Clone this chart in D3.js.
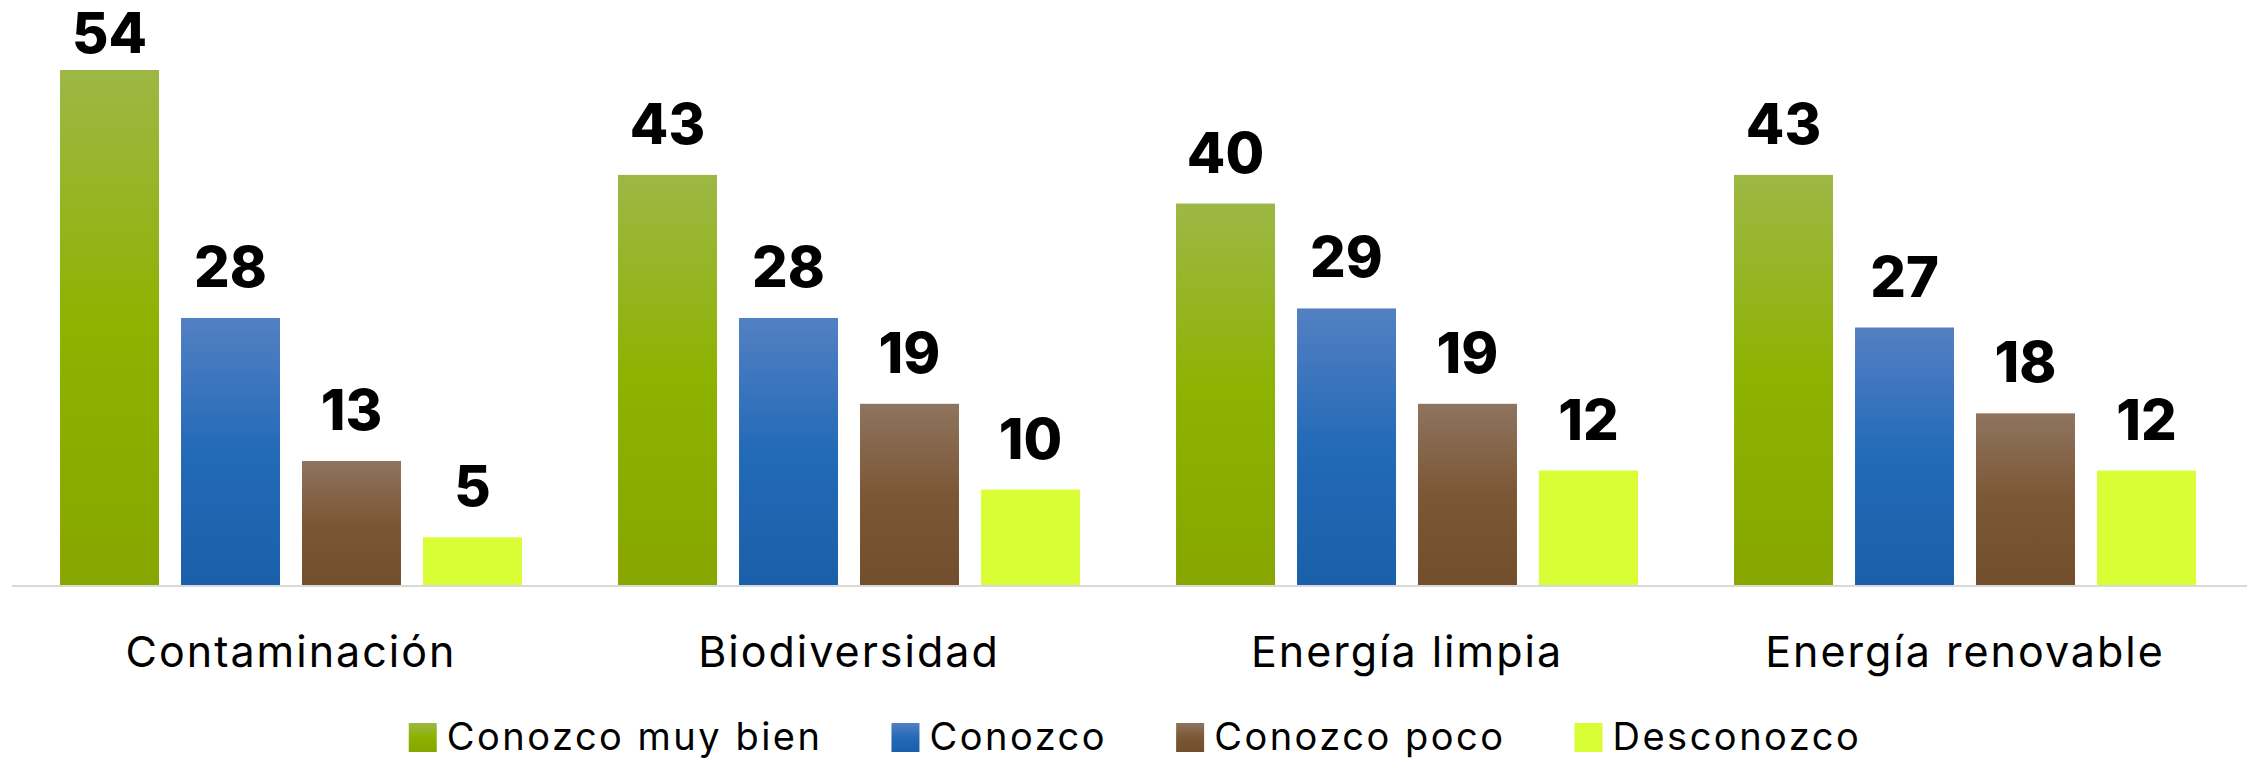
<!DOCTYPE html>
<html>
<head>
<meta charset="utf-8">
<script src="https://cdn.jsdelivr.net/npm/d3@7"></script>
<style>
  html, body { margin: 0; padding: 0; background: #fff; }
  svg { display: block; }
</style>
</head>
<body>
<div id="chart"></div>
<script>
// data
const categories = ["Contaminación", "Biodiversidad", "Energía limpia", "Energía renovable"];
const seriesNames = ["Conozco muy bien", "Conozco", "Conozco poco", "Desconozco"];
const muyBien = [54, 43, 40, 43];
const conozco = [28, 28, 29, 27];
const poco = [13, 19, 19, 18];
const desconozco = [5, 10, 12, 12];
const seriesValues = [muyBien, conozco, poco, desconozco];

// gradient stops per series (top, middle, bottom)
const palette = [
  ["#9db745", "#8db200", "#87a600"],
  ["#5380c3", "#236ab7", "#1a5fa9"],
  ["#8e745f", "#7c5735", "#734e2c"],
  ["#dafe35", "#dafe35", "#dafe35"]
];

const W = 2247, H = 759;
const baseY = 585;

const svg = d3.select("#chart").append("svg")
  .attr("width", W)
  .attr("height", H);

const defs = svg.append("defs");
palette.forEach((c, i) => {
  const lg = defs.append("linearGradient")
    .attr("id", `grad-${i}`)
    .attr("x1", 0).attr("y1", 0).attr("x2", 0).attr("y2", 1);
  lg.append("stop").attr("offset", "0%").attr("stop-color", c[0]);
  lg.append("stop").attr("offset", "50%").attr("stop-color", c[1]);
  lg.append("stop").attr("offset", "100%").attr("stop-color", c[2]);
});

const x0 = d3.scaleBand()
  .domain(categories)
  .range([12, 2244]);

const x1 = d3.scaleBand()
  .domain(seriesNames)
  .range([0, x0.bandwidth()])
  .paddingInner(0.182)
  .paddingOuter(0.397);

const y = d3.scaleLinear()
  .domain([0, 60])
  .range([baseY, baseY - 60 * 9.537]);

// table for the bars
const rows = [];
categories.forEach((cat, ci) => {
  seriesNames.forEach((s, si) => {
    rows.push({ cat, s, si, v: seriesValues[si][ci] });
  });
});

const g = svg.append("g");

g.selectAll("rect.bar")
  .data(rows)
  .join("rect")
  .attr("class", "bar")
  .attr("x", d => x0(d.cat) + x1(d.s))
  .attr("y", d => y(d.v))
  .attr("width", x1.bandwidth())
  .attr("height", d => baseY - y(d.v))
  .attr("fill", d => `url(#grad-${d.si})`);

// baseline
svg.append("line")
  .attr("x1", 12).attr("x2", W)
  .attr("y1", baseY + 1).attr("y2", baseY + 1)
  .attr("stroke", "#d9d9d9")
  .attr("stroke-width", 2);

// value labels (the tallest one is pushed down to fit)
g.selectAll("text.val")
  .data(rows)
  .join("text")
  .attr("class", "val")
  .attr("x", d => x0(d.cat) + x1(d.s) + x1.bandwidth() / 2)
  .attr("y", d => Math.max(y(d.v) - 31, 53))
  .attr("text-anchor", "middle")
  .style("font-family", "Inter, 'DejaVu Sans', sans-serif")
  .style("font-weight", 800)
  .style("font-size", "56px")
  .style("fill", "#000")
  .text(d => d.v);

// category labels
svg.selectAll("text.cat")
  .data(categories)
  .join("text")
  .attr("class", "cat")
  .attr("x", d => x0(d) + x0.bandwidth() / 2)
  .attr("y", 667)
  .attr("text-anchor", "middle")
  .style("font-family", "Inter, 'Noto Sans', sans-serif")
  .style("font-size", "43px")
  .style("letter-spacing", "2px")
  .style("fill", "#000")
  .text(d => d);

// legend
const legend = svg.append("g");
const items = legend.selectAll("g.item")
  .data(seriesNames)
  .join("g")
  .attr("class", "item");

items.append("rect")
  .attr("y", 723)
  .attr("width", 28)
  .attr("height", 29)
  .attr("fill", (d, i) => `url(#grad-${i})`);

items.append("text")
  .attr("x", 38)
  .attr("y", 750)
  .style("font-family", "Inter, 'Noto Sans', sans-serif")
  .style("font-size", "38px")
  .style("letter-spacing", "2.5px")
  .style("fill", "#000")
  .text(d => d);

let lx = 0;
const offsets = [];
items.each(function () {
  offsets.push(lx);
  const tw = d3.select(this).select("text").node().getComputedTextLength();
  lx += 38 + tw + 69;
});
const totalW = lx - 69;
const startX = 1135 - totalW / 2;
items.attr("transform", (d, i) => `translate(${startX + offsets[i]},0)`);
</script>
</body>
</html>
